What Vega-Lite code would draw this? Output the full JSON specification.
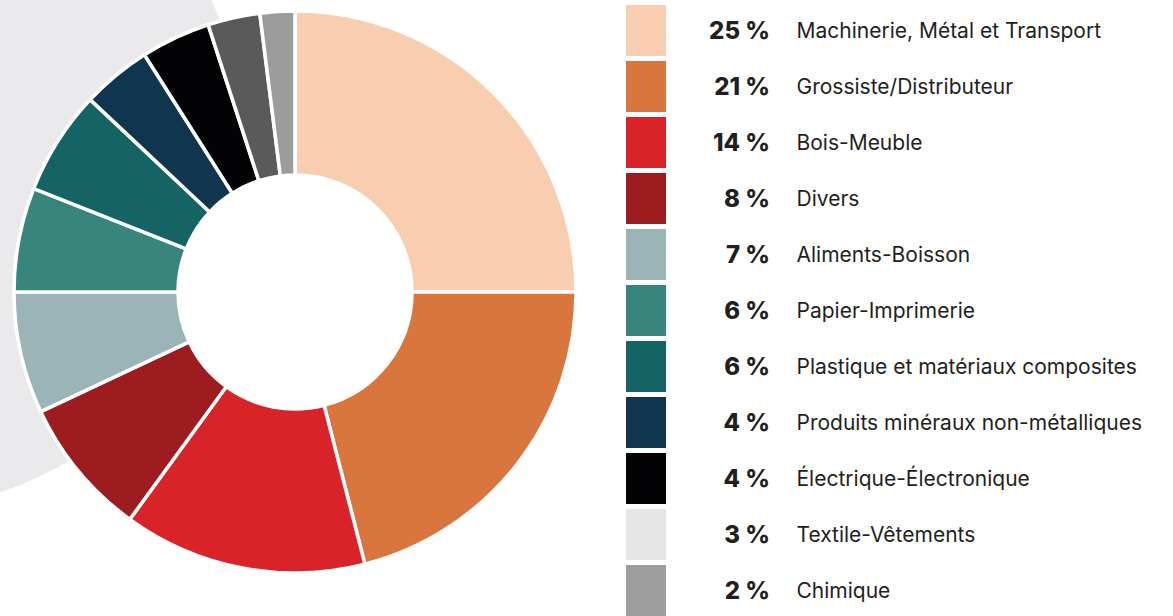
{
  "$schema": "https://vega.github.io/schema/vega-lite/v6.json",
  "padding": 0,
  "background": "white",
  "config": {"view": {"stroke": null}, "font": "Inter"},
  "datasets": {
    "sectors": [
      {"order": 1, "name": "Machinerie, Métal et Transport", "value": 25},
      {"order": 2, "name": "Grossiste/Distributeur", "value": 21},
      {"order": 3, "name": "Bois-Meuble", "value": 14},
      {"order": 4, "name": "Divers", "value": 8},
      {"order": 5, "name": "Aliments-Boisson", "value": 7},
      {"order": 6, "name": "Papier-Imprimerie", "value": 6},
      {"order": 7, "name": "Plastique et matériaux composites", "value": 6},
      {"order": 8, "name": "Produits minéraux non-métalliques", "value": 4},
      {"order": 9, "name": "Électrique-Électronique", "value": 4},
      {"order": 10, "name": "Textile-Vêtements", "value": 3},
      {"order": 11, "name": "Chimique", "value": 2}
    ],
    "backdrop": [{"cx": -114, "cy": 152}]
  },
  "spacing": 36,
  "bounds": "flush",
  "resolve": {"scale": {"color": "independent"}},
  "hconcat": [
    {
      "width": 590,
      "height": 584,
      "layer": [
        {
          "data": {"name": "backdrop"},
          "mark": {"type": "point", "shape": "circle", "filled": true, "size": 515524, "color": "#eae9ec", "opacity": 1, "strokeWidth": 0, "clip": true},
          "encoding": {
            "x": {"field": "cx", "type": "quantitative", "scale": {"domain": [0, 590], "nice": false, "zero": false}, "axis": null},
            "y": {"field": "cy", "type": "quantitative", "scale": {"domain": [0, 584], "nice": false, "zero": false, "reverse": true}, "axis": null}
          }
        },
        {
          "data": {"name": "sectors"},
          "mark": {"type": "arc", "radius": 281, "radius2": 0, "fill": "white", "stroke": "white", "strokeWidth": 3},
          "encoding": {
            "theta": {"field": "value", "type": "quantitative", "stack": true},
            "order": {"field": "order", "type": "quantitative"}
          }
        },
        {
          "data": {"name": "sectors"},
          "mark": {"type": "arc", "radius": 281, "radius2": 117, "stroke": "white", "strokeWidth": 3.5},
          "encoding": {
            "theta": {"field": "value", "type": "quantitative", "stack": true},
            "order": {"field": "order", "type": "quantitative"},
            "color": {
              "field": "name", "type": "nominal", "legend": null,
              "scale": {
                "domain": ["Machinerie, Métal et Transport", "Grossiste/Distributeur", "Bois-Meuble", "Divers", "Aliments-Boisson", "Papier-Imprimerie", "Plastique et matériaux composites", "Produits minéraux non-métalliques", "Électrique-Électronique", "Textile-Vêtements", "Chimique"],
                "range": ["#f8cdb0", "#d8763d", "#d82428", "#9d1c20", "#9bb4b8", "#37857b", "#146466", "#10354e", "#030305", "#5a5a5a", "#9c9c9c"]
              }
            }
          }
        }
      ]
    },
    {
      "width": 40,
      "height": 616,
      "data": {"name": "sectors"},
      "mark": {"type": "rect"},
      "encoding": {
        "y": {
          "field": "name", "type": "nominal", "sort": null,
          "scale": {"paddingInner": 0.0893, "paddingOuter": 0.0446, "align": 1},
          "axis": {"orient": "right", "title": null, "domain": false, "ticks": false, "tickSize": 0, "labelPadding": 103.5, "labelOffset": 1.5, "labelFont": "Inter", "labelFontSize": 24, "labelFontWeight": 800, "labelColor": "#231f20", "labelLimit": 200, "labelAlign": "right", "labelBaseline": "middle",
            "labelExpr": "pluck(data('sectors'), 'value')[indexof(pluck(data('sectors'), 'name'), datum.value)] + ' %'"}
        },
        "color": {
          "field": "name", "type": "nominal", "legend": null,
          "scale": {
            "domain": ["Machinerie, Métal et Transport", "Grossiste/Distributeur", "Bois-Meuble", "Divers", "Aliments-Boisson", "Papier-Imprimerie", "Plastique et matériaux composites", "Produits minéraux non-métalliques", "Électrique-Électronique", "Textile-Vêtements", "Chimique"],
            "range": ["#f8cdb0", "#d8763d", "#d82428", "#9d1c20", "#9bb4b8", "#37857b", "#146466", "#10354e", "#030305", "#e6e6e6", "#9d9d9d"]
          }
        }
      }
    },
    {
      "width": 360,
      "height": 616,
      "data": {"name": "sectors"},
      "mark": {"type": "rect", "opacity": 0},
      "encoding": {
        "y": {
          "field": "name", "type": "nominal", "sort": null,
          "scale": {"paddingInner": 0.0893, "paddingOuter": 0.0446, "align": 1},
          "axis": {"orient": "left", "title": null, "domain": false, "ticks": false, "tickSize": 0, "labelPadding": -94, "labelOffset": 1.5, "labelFont": "Inter", "labelFontSize": 21, "labelFontWeight": 400, "labelColor": "#231f20", "labelLimit": 600, "labelAlign": "left", "labelBaseline": "middle"}
        }
      }
    }
  ]
}
